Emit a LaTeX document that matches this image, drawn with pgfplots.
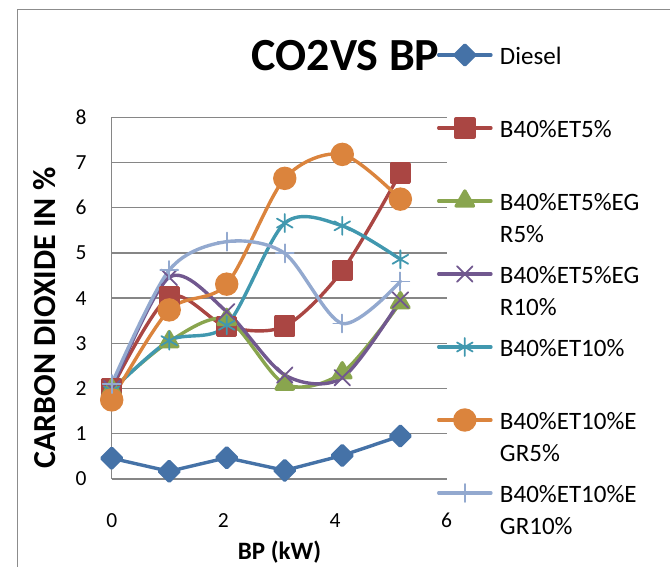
\documentclass[border=0pt]{standalone}
\usepackage{fontspec}
\setmainfont{Carlito}
\usepackage{pgfplots}
\pgfplotsset{compat=1.18}
\definecolor{cdiesel}{HTML}{4572A7}
\definecolor{cred}{HTML}{AA4643}
\definecolor{cgreen}{HTML}{89A54E}
\definecolor{cpurple}{HTML}{71588F}
\definecolor{cteal}{HTML}{4198AF}
\definecolor{corange}{HTML}{DB843D}
\definecolor{clblue}{HTML}{93A9CF}
\definecolor{gridgray}{HTML}{868686}
\definecolor{bordergray}{HTML}{8C8C8C}
\pgfplotsset{
  legend image code/.code={\draw[mark repeat=2,mark phase=2,#1] plot coordinates {(1.7pt,0pt) (27.85pt,0pt) (54pt,0pt)};},
  every axis plot/.append style={line width=3.4pt, line cap=round, line join=round},
}
\begin{document}
\begin{tikzpicture}
\useasboundingbox (0,0) rectangle (670pt,566pt);
\clip (0,0) rectangle (670pt,566pt);
\draw[color=bordergray, line width=1pt] (17pt,-2pt) -- (17pt,556pt) -- (672pt,556pt);
\begin{axis}[
  at={(111.7pt,87pt)}, anchor=south west,
  scale only axis, width=335pt, height=361.7pt,
  xmin=0, xmax=6, ymin=0, ymax=8,
  xtick={0,2,4,6}, ytick={0,1,2,3,4,5,6,7,8},
  ymajorgrids,
  major grid style={draw=gridgray, line width=1.4pt},
  axis x line*=bottom, axis y line*=left,
  axis line style={-, draw=gridgray, line width=1.4pt},
  major tick length=0pt,
  /pgf/number format/assume math mode=true,
  xticklabel style={font=\fontsize{21.5}{25}\selectfont, anchor=north, inner sep=0pt, yshift=-34pt},
  yticklabel style={font=\fontsize{21.5}{25}\selectfont, anchor=east, inner sep=0pt, xshift=-25pt},
  clip=false,
  title={CO2VS BP},
  title style={font=\fontsize{46}{50}\selectfont\bfseries, at={(axis description cs:0.698,1.112)}, anchor=base, inner sep=0pt},
  xlabel={BP (kW)},
  xlabel style={font=\fontsize{25}{30}\selectfont\bfseries, at={(axis description cs:0.501,-0.2215)}, anchor=base, inner sep=0pt},
  ylabel={CARBON DIOXIDE IN \%},
  ylabel style={font=\fontsize{32}{38}\selectfont\bfseries, at={(axis description cs:-0.199,0.445)}, anchor=center, inner sep=0pt},
  legend style={at={(axis description cs:0.9710,1.2732)}, anchor=north west, draw=none, fill=none,
    inner sep=0pt, outer sep=0pt, column sep=7.3pt, row sep=0pt,
    font=\fontsize{25}{31.7}\selectfont,
    nodes={inner sep=0pt, text height=46pt, text depth=27pt}},
  legend cell align=left,
]
\addplot[color=cdiesel, mark=square*, mark size=7pt, mark options={rotate=45}] coordinates {
(0,0.46) (1.03,0.17) (2.06,0.47) (3.10,0.19) (4.13,0.52) (5.17,0.95)};
\addlegendentry{Diesel}
\addplot[smooth, color=cred, mark=square*, mark size=9pt] coordinates {
(0,2.0) (1.03,4.03) (2.06,3.37) (3.10,3.38) (4.13,4.61) (5.17,6.77)};
\addlegendentry{B40\%ET5\%}
\addplot[smooth, color=cgreen, mark=triangle*, mark size=10pt] coordinates {
(0,1.98) (1.03,3.04) (2.06,3.53) (3.10,2.1) (4.13,2.35) (5.17,3.9)};
\addlegendentry{\smash{\begin{tabular}[t]{@{}l@{}}B40\%ET5\%EG\\R5\%\end{tabular}}}
\addplot[smooth, color=cpurple, mark=x, mark size=11pt, mark options={line width=1.8pt}] coordinates {
(0,2.0) (1.03,4.46) (2.06,3.7) (3.10,2.3) (4.13,2.24) (5.17,3.96)};
\addlegendentry{\smash{\begin{tabular}[t]{@{}l@{}}B40\%ET5\%EG\\R10\%\end{tabular}}}
\addplot[smooth, color=cteal, mark=asterisk, mark size=9pt, mark options={line width=1.8pt}] coordinates {
(0,1.95) (1.03,3.06) (2.06,3.4) (3.10,5.66) (4.13,5.6) (5.17,4.86)};
\addlegendentry{B40\%ET10\%}
\addplot[smooth, color=corange, mark=*, mark size=10pt] coordinates {
(0,1.75) (1.03,3.74) (2.06,4.31) (3.10,6.65) (4.13,7.18) (5.17,6.19)};
\addlegendentry{\smash{\begin{tabular}[t]{@{}l@{}}B40\%ET10\%E\\GR5\%\end{tabular}}}
\addplot[smooth, color=clblue, mark=+, mark size=9pt, mark options={line width=1.8pt}] coordinates {
(0,2.1) (1.03,4.62) (2.06,5.25) (3.10,4.99) (4.13,3.44) (5.17,4.37)};
\addlegendentry{\smash{\begin{tabular}[t]{@{}l@{}}B40\%ET10\%E\\GR10\%\end{tabular}}}
\end{axis}
\end{tikzpicture}
\end{document}
